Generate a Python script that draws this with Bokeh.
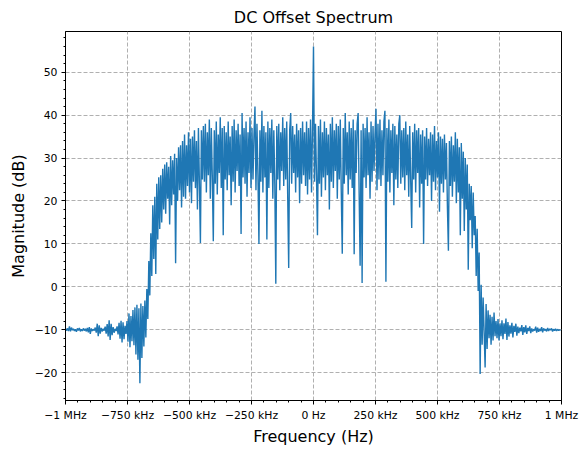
import numpy as np
from bokeh.plotting import figure
from bokeh.models import Range1d, FixedTicker
from bokeh.embed import file_html
from bokeh.resources import INLINE

# Spectrum magnitude (dB), one value every 4 kHz starting at -1 MHz
mag_low_stop = [
    -9.8, -10.2, -9.7, -10.3, -9.2, -10.4, -9.5, -10.1, -9.8, -10.3, -9.9, -10.5, -9.7, -10.2, -9.6, -10.4, -9.9, -10.3, -9.7, -10.2,
    -9.8, -10.4, -9.6, -10.6, -9.4, -11.0, -9.7, -10.3, -9.9, -10.2, -9.5, -10.7, -8.6, -11.5, -9.0, -10.9, -9.6, -10.4, -9.8, -10.2,
    -9.3, -10.9, -8.7, -11.6, -7.8, -12.4, -8.6, -11.3, -9.4, -10.7, -9.8, -10.3, -9.2, -11.1, -8.4, -12.1, -7.9, -13.0, -8.3, -12.2,
    -9.1, -11.0, -8.0, -12.8, -6.2, -14.1, -6.8, -12.7, -5.4, -13.6, -4.8, -15.8, -4.2, -17.0, -5.0, -22.5, -3.9, -16.6, -4.5, -13.9,
]
mag_rise = [
    -3.2, -11.8, -0.5, -7.5, 6.0, -2.0, 12.5, 2.5, 19.0, 6.5, 21.0, 3.0, 24.0, 11.0, 25.5, 13.5, 26.0, 15.0, 27.5, 18.0,
    28.5, 17.0, 29.0, 20.5, 28.0, 14.5, 30.5, 19.0, 29.5, 21.5, 31.0, 5.5, 30.0, 20.0, 32.5, 22.5, 33.0, 18.5, 34.0, 21.0,
]
mag_pass = [
    35.5, 20.5, 33.0, 23.5, 36.0, 22.0, 34.5, 19.5, 35.0, 24.5, 36.5, 23.0, 34.0, 18.0, 37.0, 24.0, 10.2, 36.5, 25.0, 37.5,
    24.5, 38.0, 22.0, 36.0, 26.0, 39.0, 20.5, 37.0, 25.5, 10.6, 36.5, 24.0, 38.5, 21.5, 35.5, 26.5, 39.5, 23.0, 37.0, 12.0,
    37.5, 25.0, 36.0, 22.5, 38.5, 26.0, 35.0, 19.0, 37.5, 24.5, 39.0, 22.0, 36.5, 27.0, 38.0, 23.5, 35.5, 12.3, 40.5, 25.5,
    37.0, 24.0, 38.5, 21.0, 36.0, 26.5, 39.5, 23.0, 37.0, 25.0, 35.5, 42.0, 22.5, 38.0, 26.0, 10.0, 36.5, 24.5, 41.0, 22.0,
    37.5, 25.5, 36.0, 11.0, 38.5, 23.0, 37.0, 26.5, 39.0, 20.5, 36.5, 24.0, 0.7, 37.5, 25.0, 38.0, 22.5, 36.0, 27.0, 39.5,
    23.5, 37.0, 25.0, 38.5, 21.0, 4.4, 36.5, 40.5, 24.0, 37.5, 26.5, 35.5, 22.0, 38.0, 25.5, 36.5, 19.5, 37.0, 24.0, 38.5,
    26.0, 36.0, 23.5, 38.5, 21.5, 37.0, 25.0, 39.0, 22.0, 36.5, 56.0, 24.5, 38.0, 26.0, 12.0, 37.5, 24.0, 39.0, 21.0, 36.0,
    25.5, 38.5, 22.5, 37.0, 26.0, 35.5, 18.0, 38.0, 24.5, 39.5, 23.0, 36.5, 27.0, 38.0, 20.5, 37.5, 25.0, 39.0, 22.0, 7.7,
    37.0, 24.0, 40.5, 26.0, 36.0, 21.5, 38.5, 25.0, 37.0, 23.0, 39.0, 7.6, 36.5, 26.5, 38.0, 40.5, 22.0, 4.9, 36.5, 0.9,
    38.0, 25.5, 37.0, 23.0, 39.5, 26.0, 36.0, 20.5, 38.5, 24.5, 37.5, 27.0, 35.5, 41.5, 22.5, 38.0, 25.0, 39.0, 23.5, 36.5,
    26.0, 38.5, 41.0, 1.2, 37.0, 24.5, 39.0, 22.0, 36.5, 26.5, 38.0, 19.0, 37.5, 25.0, 35.5, 23.0, 38.0, 40.0, 24.0, 36.5,
    25.5, 37.0, 22.5, 38.5, 26.0, 35.5, 21.0, 37.5, 24.5, 13.7, 36.0, 25.0, 38.0, 22.0, 36.5, 26.5, 37.0, 18.5, 35.5, 24.0,
    36.5, 10.0, 35.0, 25.0, 37.0, 23.5, 34.5, 26.0, 36.0, 20.0, 35.5, 24.5, 37.5, 22.5, 34.0, 25.5, 36.0, 17.5, 35.0, 24.0,
    34.5, 22.0, 35.5, 25.0, 33.5, 18.5, 8.4, 34.0, 23.5, 35.0, 21.0, 33.0, 24.5, 36.0, 19.5, 34.5, 22.0, 32.5, 12.0, 33.5,
]
mag_fall = [
    20.5, 31.5, 13.0, 30.0, 18.0, 28.5, 4.0, 24.0, 15.5, 23.5, 9.0, 22.0, 12.0, 16.5, 2.5, 13.5, -1.0, 8.0, -20.3, 0.5,
    -13.5, -2.5, -10.5, -18.8, -4.0, -14.5, -5.5, -12.0, -6.5, -13.5, -7.0, -12.5, -6.0, -11.5, -8.0, -12.0, -7.5, -12.5, -8.5, -11.5,
]
mag_high_stop = [
    -7.8, -12.2, -8.5, -11.0, -7.4, -12.4, -8.2, -11.6, -9.0, -10.9, -8.4, -11.8, -9.1, -10.5, -8.6, -11.4, -9.3, -10.8, -9.5, -10.4,
    -8.9, -11.2, -9.4, -10.6, -9.0, -11.0, -9.6, -10.3, -9.2, -10.8, -9.7, -10.4, -9.9, -10.2, -9.3, -10.7, -9.5, -10.5, -9.8, -10.3,
    -9.4, -10.6, -9.7, -10.2, -9.9, -10.4, -9.6, -10.3, -9.8, -10.1, -9.7, -10.4, -9.9, -10.2, -9.8, -10.3, -9.9, -10.2, -10.0, -10.2,
]

freq_start_hz = -1.0e6
freq_step_hz = 4.0e3

x_ticks = [-1.0e6, -7.5e5, -5.0e5, -2.5e5, 0.0, 2.5e5, 5.0e5, 7.5e5, 1.0e6]
x_tick_labels = ["\u22121 MHz", "\u2212750 kHz", "\u2212500 kHz", "\u2212250 kHz", "0 Hz",
                 "250 kHz", "500 kHz", "750 kHz", "1 MHz"]
y_ticks = [-20, -10, 0, 10, 20, 30, 40, 50]
y_tick_labels = ["\u221220", "\u221210", "0", "10", "20", "30", "40", "50"]

mag = np.array(mag_low_stop + mag_rise + mag_pass + mag_fall + mag_high_stop)
freq = freq_start_hz + freq_step_hz * np.arange(len(mag))

FONT = "DejaVu Sans"

p = figure(width=588, height=454, output_backend="svg", toolbar_location=None,
           x_range=Range1d(-1.0e6, 1.0e6), y_range=Range1d(-26.5, 59.5),
           min_border_left=65, min_border_right=27, min_border_top=30, min_border_bottom=54,
           title="DC Offset Spectrum")

p.line(freq, mag, line_color="#1f77b4", line_width=1.4, line_join="bevel")

p.title.text_font = FONT
p.title.text_font_size = "16px"
p.title.text_font_style = "normal"
p.title.text_color = "black"
p.title.align = "center"
p.title.offset = 0

p.background_fill_color = "white"
p.border_fill_color = "white"
p.outline_line_color = "black"
p.outline_line_width = 1
p.outline_line_alpha = 1.0

p.xaxis.axis_label = "Frequency (Hz)"
p.yaxis.axis_label = "Magnitude (dB)"

p.xaxis.ticker = FixedTicker(ticks=x_ticks,
                             minor_ticks=[-1.0e6 + 5.0e4 * k for k in range(41)])
p.xaxis.major_label_overrides = {t: s for t, s in zip(x_ticks, x_tick_labels)}
p.yaxis.ticker = FixedTicker(ticks=y_ticks, minor_ticks=list(range(-26, 60, 2)))
p.yaxis.major_label_overrides = {t: s for t, s in zip(y_ticks, y_tick_labels)}

for ax in (p.xaxis[0], p.yaxis[0]):
    ax.axis_label_text_font = FONT
    ax.axis_label_text_font_size = "16px"
    ax.axis_label_text_font_style = "normal"
    ax.axis_label_text_color = "black"
    ax.major_label_text_font = FONT
    ax.major_label_text_font_size = "10.8px"
    ax.major_label_text_color = "black"
    ax.axis_line_color = "black"
    ax.axis_line_width = 1
    ax.major_tick_line_color = "black"
    ax.minor_tick_line_color = "black"
    ax.major_tick_in = 0
    ax.major_tick_out = 4
    ax.minor_tick_in = 0
    ax.minor_tick_out = 2
    ax.major_label_standoff = 4

p.xaxis[0].axis_label_standoff = 2
p.yaxis[0].axis_label_standoff = 4

p.xgrid.ticker = p.xaxis[0].ticker
p.ygrid.ticker = p.yaxis[0].ticker
for g in (p.xgrid[0], p.ygrid[0]):
    g.grid_line_color = "#b0b0b0"
    g.grid_line_dash = "4 2"
    g.grid_line_width = 1

open("out.html", "w").write(file_html(p, INLINE))
